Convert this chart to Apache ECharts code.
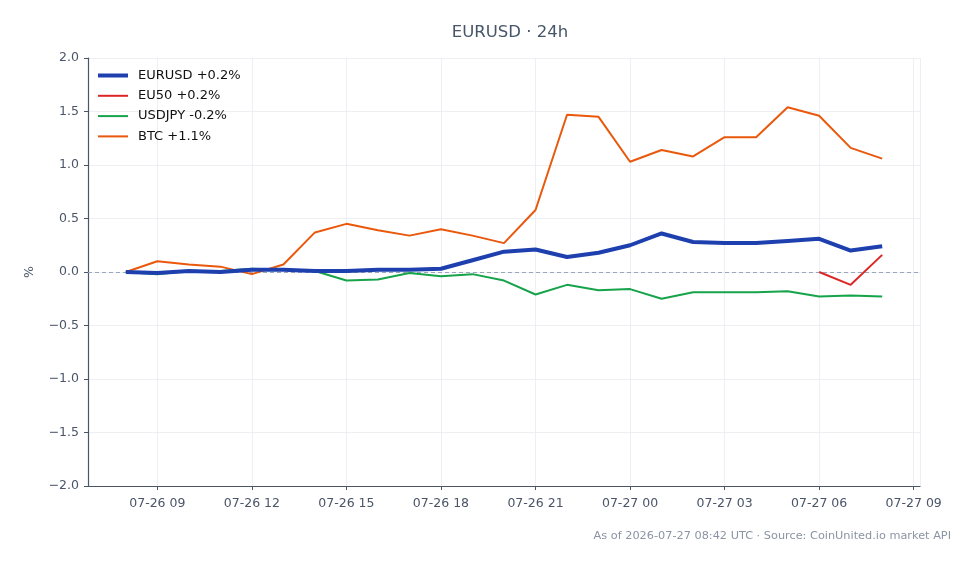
<!DOCTYPE html>
<html>
<head>
<meta charset="utf-8">
<script src="https://cdn.jsdelivr.net/npm/echarts@6/dist/echarts.min.js"></script>
<style>
  html, body { margin: 0; padding: 0; background: #fff; }
  #main { width: 979px; height: 564px; }
</style>
</head>
<body>
<div id="main"></div>
<script>
// hourly timestamps (UTC), 07-26 08:00 .. 07-27 08:00
var times = ['07-26 08', '07-26 09', '07-26 10', '07-26 11', '07-26 12', '07-26 13', '07-26 14',
  '07-26 15', '07-26 16', '07-26 17', '07-26 18', '07-26 19', '07-26 20', '07-26 21', '07-26 22',
  '07-26 23', '07-27 00', '07-27 01', '07-27 02', '07-27 03', '07-27 04', '07-27 05', '07-27 06',
  '07-27 07', '07-27 08'];

var eurusd = [0.00, -0.01, 0.01, 0.00, 0.02, 0.02, 0.01, 0.01, 0.02, 0.02, 0.03, 0.11, 0.19,
  0.21, 0.14, 0.18, 0.25, 0.36, 0.28, 0.27, 0.27, 0.29, 0.31, 0.20, 0.24];
var eu50 = [null, null, null, null, null, null, null, null, null, null, null, null, null,
  null, null, null, null, null, null, null, null, null, 0.00, -0.12, 0.16];
var usdjpy = [0.00, -0.02, 0.01, 0.01, 0.03, 0.02, 0.01, -0.08, -0.07, -0.01, -0.04, -0.02, -0.08,
  -0.21, -0.12, -0.17, -0.16, -0.25, -0.19, -0.19, -0.19, -0.18, -0.23, -0.22, -0.23];
var btc = [0.00, 0.10, 0.07, 0.05, -0.02, 0.07, 0.37, 0.45, 0.39, 0.34, 0.40, 0.34, 0.27,
  0.58, 1.47, 1.45, 1.03, 1.14, 1.08, 1.26, 1.26, 1.54, 1.46, 1.16, 1.06];

var names = ['EURUSD +0.2%', 'EU50 +0.2%', 'USDJPY -0.2%', 'BTC +1.1%'];
var colors = ['#1e40af', '#dc2626', '#16a34a', '#ea580c'];

// hours since 07-26 00:00
function toHours(t) {
  var day = parseInt(t.substring(3, 5), 10);
  var h = parseInt(t.substring(6, 8), 10);
  return (day - 26) * 24 + h;
}
function pad(n) { return (n < 10 ? '0' : '') + n; }
function hourLabel(v) {
  var h = Math.round(v);
  return '07-' + (26 + Math.floor(h / 24)) + ' ' + pad(h % 24);
}
function pairs(vals) {
  var out = [];
  for (var i = 0; i < times.length; i++) {
    out.push([toHours(times[i]), vals[i]]);
  }
  return out;
}

var thin = 'path://M0,0 L30,0 L30,2 L0,2 Z';
var thick = 'path://M0,0 L30,0 L30,4 L0,4 Z';

var myChart = echarts.init(document.getElementById('main'));
var font = 'DejaVu Sans';
var option = {
  animation: false,
  backgroundColor: '#fff',
  color: colors,
  textStyle: { fontFamily: font },
  title: [{
    text: 'EURUSD · 24h',
    left: 505, top: 19, textAlign: 'center',
    textStyle: { fontFamily: font, fontSize: 16.5, fontWeight: 'normal', color: '#475569' }
  }, {
    text: 'As of 2026-07-27 08:42 UTC · Source: CoinUnited.io market API',
    right: 23, top: 526,
    textStyle: { fontFamily: font, fontSize: 11.3, fontWeight: 'normal', color: '#8a94a3' }
  }],
  legend: {
    orient: 'vertical',
    left: 93, top: 64,
    itemWidth: 30, itemHeight: 14, itemGap: 7.3,
    textStyle: { fontFamily: font, fontSize: 13, color: '#111', padding: [0, 0, 0, 5] },
    data: [
      { name: names[0], icon: thick },
      { name: names[1], icon: thin },
      { name: names[2], icon: thin },
      { name: names[3], icon: thin }
    ]
  },
  grid: { left: 88, right: 59, top: 58, bottom: 78 },
  xAxis: {
    type: 'value',
    min: 6.8, max: 33.2,
    splitNumber: 9,
    axisLine: { onZero: false, lineStyle: { color: '#4a5568', width: 1.2 } },
    axisTick: { length: 4, lineStyle: { color: '#4a5568' } },
    axisLabel: {
      fontFamily: font, fontSize: 12.5, color: '#4a5568', margin: 11,
      showMinLabel: false, showMaxLabel: false,
      formatter: hourLabel
    },
    splitLine: { show: true, lineStyle: { color: '#e8ebef', width: 0.8 } }
  },
  yAxis: {
    type: 'value',
    min: -2, max: 2, interval: 0.5,
    name: '%',
    nameLocation: 'middle', nameGap: 52, nameRotate: 90,
    nameTextStyle: { fontFamily: font, fontSize: 12.5, color: '#4a5568' },
    axisLine: { show: true, onZero: false, lineStyle: { color: '#4a5568', width: 1.2 } },
    axisTick: { show: true, length: 4, lineStyle: { color: '#4a5568' } },
    axisLabel: {
      fontFamily: font, fontSize: 12.5, color: '#4a5568', margin: 9,
      formatter: function (v) { return v.toFixed(1).replace('-', '\u2212'); }
    },
    splitLine: { show: true, lineStyle: { color: '#e8ebef', width: 0.8 } }
  },
  series: [{
    name: names[0], type: 'line', data: pairs(eurusd), showSymbol: false, z: 5,
    lineStyle: { width: 4, color: colors[0] },
    markLine: {
      silent: true, symbol: 'none', label: { show: false }, z: 1,
      lineStyle: { type: [4, 3], color: '#9aa6bc', width: 1, opacity: 1 },
      emphasis: { disabled: true },
      data: [{ yAxis: 0 }]
    }
  }, {
    name: names[1], type: 'line', data: pairs(eu50), showSymbol: false, z: 6,
    lineStyle: { width: 2, color: colors[1] }
  }, {
    name: names[2], type: 'line', data: pairs(usdjpy), showSymbol: false, z: 4,
    lineStyle: { width: 2, color: colors[2] }
  }, {
    name: names[3], type: 'line', data: pairs(btc), showSymbol: false, z: 3,
    lineStyle: { width: 2, color: colors[3] }
  }]
};
myChart.setOption(option);
</script>
</body>
</html>
